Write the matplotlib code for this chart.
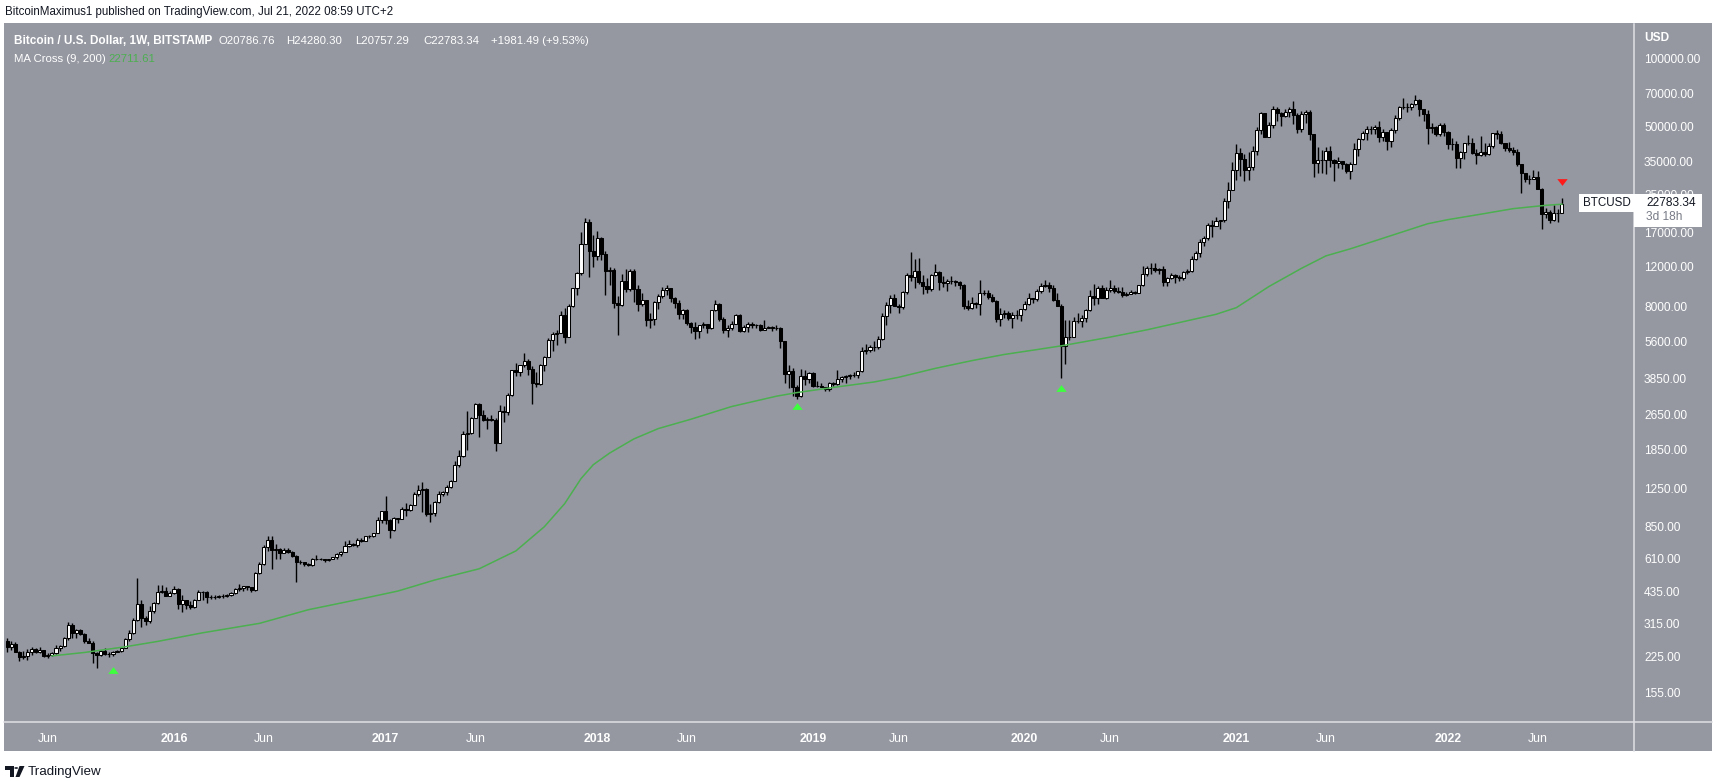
import numpy as np
import pandas as pd
import matplotlib
matplotlib.use('Agg')
import matplotlib.pyplot as plt
import matplotlib.dates as mdates
from matplotlib.patches import Rectangle, Polygon, Circle
from matplotlib.lines import Line2D
from matplotlib.ticker import NullLocator

plt.rcParams['font.family'] = ['Liberation Sans', 'DejaVu Sans']

# weekly BTCUSD candles (Bitstamp), first week starts 2015-03-23
first_open = 262
wk_high = [
    # 2015
    270, 262, 261, 238, 238, 243, 248, 246, 247, 241, 232, 236, 253, 252, 275, 318, 317, 297, 298, 286, 272,
    262, 235, 240, 245, 234, 238, 240, 248, 270, 294, 332, 502, 398, 340, 375, 392, 465, 468, 455, 438,
    # 2016
    462, 450, 422, 398, 395, 405, 445, 440, 440, 421, 420, 422, 425, 425, 432, 451, 470, 460, 462, 457, 530,
    590, 700, 768, 770, 705, 680, 680, 678, 658, 630, 600, 590, 585, 612, 630, 612, 610, 610, 620, 645, 660,
    730, 740, 715, 755, 750, 770, 775, 795, 935, 995,
    # 2017
    1150, 915, 930, 925, 1035, 1080, 1060, 1200, 1290, 1330, 1260, 1060, 1100, 1215, 1220, 1290, 1360, 1650,
    1850, 2250, 2760, 2600, 2990, 2990, 2770, 2600, 2640, 2550, 2930, 2900, 3300, 4200, 4480, 4400, 4980,
    4700, 4350, 4100, 4450, 4800, 5800, 6180, 6310, 7600, 7880, 8200, 9680, 11400, 17100, 19660, 19480, 16500,
    # 2018
    17200, 16300, 14100, 12000, 11800, 8900, 11100, 11750, 11700, 11700, 10000, 9200, 8500, 7500, 8450, 9050,
    9760, 9980, 9670, 8840, 8520, 7780, 7780, 6830, 6850, 6620, 6850, 6720, 7720, 8500, 8250, 7150, 6620,
    6880, 7380, 7400, 6600, 6840, 6800, 6690, 6720, 7000, 6540, 6560, 6600, 6480, 5650, 4400, 4280, 3600,
    4240, 4200,
    # 2019
    4100, 4100, 3750, 3650, 3530, 3700, 3700, 4200, 3950, 3960, 4000, 4100, 4150, 5300, 5470, 5370, 5650,
    5900, 7500, 8400, 8950, 9080, 8180, 9370, 11300, 13880, 12950, 13180, 10980, 10650, 11150, 12300, 11450,
    10940, 10600, 10900, 10450, 10380, 10050, 8500, 8800, 8400, 10500, 9500, 9450, 9080, 8500, 7850, 7700,
    7600, 7560, 7700,
    # 2020
    7800, 8450, 9200, 8750, 9580, 10150, 10500, 10250, 9980, 9200, 8190, 6950, 6950, 7200, 7480, 7300, 7800,
    9460, 10050, 9900, 10000, 9740, 10430, 9980, 9800, 9790, 9300, 9460, 9370, 10000, 12120, 12050, 12490,
    12480, 11850, 12100, 10760, 11200, 11190, 10980, 11480, 11750, 13350, 14100, 15960, 16480, 18800, 19420,
    19900, 19400, 24290, 28370, 34790,
    # 2021
    41950, 40100, 37850, 38550, 40950, 49700, 58350, 57500, 52650, 61790, 61200, 58450, 60000, 61300, 64900,
    57500, 58500, 59500, 59600, 46600, 40900, 39500, 40900, 41300, 36000, 36650, 35300, 34650, 34800, 42600,
    44800, 48150, 50500, 50400, 51000, 52900, 48800, 47400, 49200, 56600, 62000, 67000, 63700, 63600, 69000,
    66400, 59900, 59100, 51900, 50500, 51850, 52100,
    # 2022
    47700, 44450, 43500, 38900, 42500, 45800, 44750, 40000, 45400, 42600, 42400, 46900, 48200, 47700, 42400,
    42900, 40800, 40000, 34250, 31300, 30600, 32350, 31750, 26850, 21800, 21500, 22500, 21600, 24280.30,
]
wk_low = [
    # 2015
    236, 240, 234, 215, 219, 216, 228, 232, 232, 223, 221, 226, 230, 238, 248, 266, 272, 272, 280, 257, 257,
    210, 199, 225, 228, 223, 225, 234, 236, 244, 264, 282, 322, 305, 310, 316, 350, 384, 430, 415, 418,
    # 2016
    423, 365, 355, 365, 365, 370, 398, 400, 386, 404, 405, 408, 410, 414, 418, 424, 440, 438, 445, 435, 440,
    520, 570, 660, 550, 610, 608, 645, 648, 620, 480, 575, 567, 565, 566, 600, 600, 590, 593, 605, 610, 628,
    652, 685, 695, 690, 720, 730, 755, 762, 795, 880,
    # 2017
    870, 750, 810, 880, 910, 940, 990, 1050, 1160, 985, 940, 890, 940, 1080, 1160, 1170, 1260, 1340, 1555,
    1720, 1850, 2180, 2550, 2120, 2480, 2300, 2490, 1830, 1990, 2450, 2650, 3200, 3950, 3950, 4330, 3960,
    2970, 3510, 3600, 4130, 4760, 5100, 5380, 6100, 5500, 5860, 7980, 8950, 11060, 15100, 10800, 12000,
    # 2018
    12800, 12800, 9000, 10000, 7900, 6000, 8000, 9300, 9400, 8350, 7670, 8000, 6550, 6450, 6620, 7820, 8700,
    8960, 8340, 7900, 7050, 7050, 6600, 6120, 5750, 5800, 6450, 6080, 6340, 7650, 6900, 6100, 5880, 6270,
    6660, 6180, 6150, 6180, 6390, 6450, 6200, 6280, 6390, 6250, 6320, 5250, 3650, 3470, 3220, 3120, 3180, 3600,
    # 2019
    3660, 3500, 3500, 3500, 3380, 3380, 3560, 3600, 3690, 3670, 3810, 3900, 3850, 4100, 4920, 5000, 5100,
    5200, 5700, 6600, 7450, 8000, 7450, 7830, 9100, 10400, 9700, 10050, 9090, 9160, 9400, 10900, 9480, 9750,
    9330, 10060, 9880, 9600, 7800, 7750, 7780, 7890, 7300, 8950, 8650, 8380, 6800, 6530, 7110, 6980, 6430, 7010,
    # 2020
    6870, 7720, 8100, 8250, 8460, 9160, 9750, 9300, 8450, 8000, 3850, 4440, 5700, 5870, 6750, 6500, 6810,
    7640, 8100, 8200, 8700, 8630, 9280, 9200, 9220, 8820, 8900, 9050, 9060, 9130, 9850, 10960, 11150, 11360,
    11120, 9890, 9850, 10600, 10130, 10400, 10520, 11170, 11400, 12900, 13200, 14800, 15800, 16200, 18100,
    17600, 19000, 21800, 26150,
    # 2021
    29000, 30300, 28800, 29200, 32300, 37400, 46600, 44900, 45000, 49300, 53200, 50300, 55500, 55400, 51500,
    47000, 47500, 52000, 43800, 30000, 31200, 31100, 31000, 33300, 28800, 32700, 32600, 31100, 29300, 34100,
    37300, 43800, 43900, 46300, 46500, 42800, 43400, 39600, 40800, 47200, 53800, 59700, 58000, 59400, 62300,
    55800, 53300, 42000, 47100, 45600, 45600, 45700,
    # 2022
    39700, 39600, 33000, 32900, 36200, 41600, 38000, 34300, 37200, 37200, 37600, 40500, 44200, 42100, 39200,
    38500, 37600, 33700, 25400, 28600, 28000, 29300, 26500, 17600, 19650, 18650, 19050, 18900, 20757.29,
]
wk_close = [
    # 2015
    247, 254, 236, 223, 226, 236, 242, 236, 240, 225, 228, 233, 246, 250, 271, 310, 285, 293, 282, 263, 259,
    232, 229, 238, 230, 231, 234, 238, 246, 268, 285, 325, 385, 333, 322, 357, 389, 433, 440, 418, 431,
    # 2016
    448, 385, 400, 378, 372, 400, 436, 432, 412, 414, 411, 418, 418, 420, 429, 448, 450, 460, 455, 445, 526,
    575, 685, 740, 665, 670, 645, 665, 655, 624, 590, 588, 580, 574, 606, 610, 606, 600, 610, 617, 640, 655,
    697, 705, 700, 740, 730, 765, 770, 790, 905, 995,
    # 2017
    905, 820, 920, 915, 1015, 1000, 1050, 1180, 1230, 1235, 965, 970, 1090, 1180, 1200, 1270, 1350, 1590,
    1730, 2170, 2200, 2560, 2950, 2630, 2510, 2540, 2520, 1990, 2750, 2730, 3230, 4160, 4080, 4380, 4600,
    4210, 3680, 3620, 4390, 4760, 5690, 6010, 6130, 7360, 5870, 8050, 9650, 11250, 15150, 19000, 14100, 13450,
    # 2018
    16150, 13600, 11500, 11650, 8250, 8100, 10400, 9600, 11450, 9550, 8200, 8500, 6930, 7050, 8350, 8920,
    9420, 9660, 8680, 8250, 7380, 7700, 6740, 6490, 6210, 6600, 6720, 6400, 7700, 8200, 7010, 6300, 6400,
    6710, 7300, 6250, 6500, 6700, 6620, 6590, 6300, 6420, 6490, 6440, 6420, 5600, 4000, 4150, 3530, 3200,
    3950, 3830,
    # 2019
    4040, 3550, 3550, 3530, 3430, 3660, 3640, 3820, 3880, 3925, 3990, 3970, 4120, 5060, 5150, 5300, 5290,
    5740, 7260, 8100, 8740, 8030, 7970, 9250, 11040, 10800, 11490, 10250, 9850, 9520, 11000, 11380, 10220,
    10140, 10380, 10320, 10300, 9980, 8050, 7860, 8300, 8220, 9220, 9200, 8810, 8490, 7040, 7400, 7510,
    7080, 7320, 7300,
    # 2020
    7760, 8190, 8700, 8600, 9330, 9900, 9930, 9670, 8530, 8030, 5360, 5830, 5880, 6860, 6900, 7120, 7690,
    8900, 8720, 9680, 8720, 9450, 9670, 9330, 9300, 9010, 9070, 9250, 9170, 9930, 11180, 11850, 11900, 11650,
    11700, 10280, 10650, 11070, 10750, 10670, 11380, 11500, 13030, 13760, 15470, 16050, 18400, 18180, 19150,
    19250, 23500, 26260, 32170,
    # 2021
    38150, 36050, 32260, 33100, 38900, 48600, 57500, 45200, 51200, 59850, 57330, 55800, 58200, 59800, 56200,
    49000, 57000, 58200, 46500, 34700, 35650, 35800, 39000, 35500, 34700, 35300, 34250, 31800, 34200, 39900,
    44400, 47000, 48900, 48800, 49900, 44950, 47300, 43200, 48250, 55000, 61500, 61300, 61300, 63300, 65500,
    59700, 57200, 49400, 50100, 46700, 50800, 47300,
    # 2022
    41800, 42000, 36300, 38500, 42200, 42200, 38400, 37700, 38800, 37800, 41300, 46800, 46400, 42200, 40400,
    39500, 38500, 34100, 31300, 29450, 29450, 29900, 26600, 20500, 21000, 19300, 20800, 20786.76, 22783.34,
]

# 200-week moving average
ma_dates = ['2015-06-08', '2015-08-03', '2015-10-12', '2015-12-07', '2016-02-22', '2016-05-30',
            '2016-08-22', '2016-11-28', '2017-01-23', '2017-03-27', '2017-06-12', '2017-08-14',
            '2017-10-02', '2017-11-06', '2017-12-04', '2017-12-25', '2018-01-22', '2018-03-05',
            '2018-04-16', '2018-06-11', '2018-08-20', '2018-11-05', '2018-12-10', '2019-02-18',
            '2019-04-22', '2019-06-03', '2019-08-05', '2019-10-07', '2019-12-02', '2020-01-27',
            '2020-03-09', '2020-06-01', '2020-08-03', '2020-10-05', '2020-11-30', '2021-01-04',
            '2021-03-01', '2021-04-26', '2021-06-07', '2021-07-19', '2021-10-04', '2021-11-29',
            '2022-01-03', '2022-02-28', '2022-04-25', '2022-06-20', '2022-07-18']
ma_values = [226, 234, 248, 262, 286, 315,
             362, 408, 438, 490, 550, 660,
             845, 1070, 1380, 1590, 1790, 2070,
             2300, 2530, 2880, 3200, 3320, 3520,
             3700, 3880, 4250, 4600, 4900, 5150,
             5350, 5850, 6300, 6850, 7380, 7900,
             9800, 11800, 13400, 14400, 16700, 18600,
             19400, 20500, 21700, 22450, 22711.61]

# MA cross signals
cross_up_dates = ['2015-09-21', '2018-12-10', '2020-03-09']
cross_up_vals = [196, 2900, 3480]
cross_dn_dates = ['2022-07-18']
cross_dn_vals = [28500]

price_ticks = [100000, 70000, 50000, 35000, 25000, 17000, 12000, 8000, 5600, 3850, 2650,
               1850, 1250, 850, 610, 435, 315, 225, 155]
time_ticks = ['2015-06-01', '2016-01-04', '2016-06-06', '2017-01-02', '2017-06-05', '2018-01-01',
              '2018-06-04', '2019-01-07', '2019-06-03', '2020-01-06', '2020-06-01', '2021-01-04',
              '2021-06-07', '2022-01-03', '2022-06-06']
time_labels = ['Jun', '2016', 'Jun', '2017', 'Jun', '2018', 'Jun', '2019', 'Jun', '2020', 'Jun',
               '2021', 'Jun', '2022', 'Jun']

assert len(wk_high) == len(wk_low) == len(wk_close)

W, H = 1719, 781
GRAY = '#9598a1'
SEP = '#dfe1e6'
DARK = '#131722'


def fx(px):
    return px / W


def fy(py):
    return 1 - py / H


fig = plt.figure(figsize=(W / 100, H / 100), dpi=100)
fig.patch.set_facecolor('white')

# gray chart panel (pane + price scale + time scale)
fig.add_artist(Rectangle((fx(4), fy(751)), fx(1712) - fx(4), fy(23.5) - fy(751),
                         transform=fig.transFigure, facecolor=GRAY, edgecolor='none', zorder=-1))

ax = fig.add_axes([fx(4), fy(722), (1634 - 4) / W, (722 - 23.5) / H])
ax.patch.set_visible(False)
for s in ax.spines.values():
    s.set_visible(False)

dates = pd.date_range('2015-03-23', periods=len(wk_close), freq='7D')
x = mdates.date2num(dates)
closes = np.array(wk_close, dtype=float)
opens = np.array([first_open] + wk_close[:-1], dtype=float)
highs = np.array(wk_high, dtype=float)
lows = np.array(wk_low, dtype=float)
up = closes >= opens
blo = np.minimum(opens, closes)
bhi = np.maximum(opens, closes)

ax.vlines(x, lows, highs, color='black', lw=1.0, zorder=2)
ax.bar(x[up], (bhi - blo)[up], bottom=blo[up], width=5.3, color='white',
       edgecolor='black', lw=0.75, zorder=3)
ax.bar(x[~up], (bhi - blo)[~up], bottom=blo[~up], width=5.3, color='black',
       edgecolor='black', lw=0.75, zorder=3)

ax.plot(mdates.date2num(pd.to_datetime(ma_dates)), ma_values, color='#4caf50', lw=1.1, zorder=4)

up_marker = [(-1, -0.65), (1, -0.65), (0, 0.65)]
dn_marker = [(-1, 0.65), (1, 0.65), (0, -0.65)]
ax.plot(mdates.date2num(pd.to_datetime(cross_up_dates)), cross_up_vals, ls='none',
        marker=up_marker, ms=7.5, color='#3dff3d', mec='none', zorder=5)
ax.plot(mdates.date2num(pd.to_datetime(cross_dn_dates)), cross_dn_vals, ls='none',
        marker=dn_marker, ms=7.5, color='#ff1a1a', mec='none', zorder=5)

ax.set_yscale('log')
ax.set_ylim(115.1, 143600)
d0 = mdates.date2num(pd.Timestamp('2016-01-04'))
ax.set_xlim(d0 - 41.77 * 7, d0 + 358.7 * 7)

ax.yaxis.set_ticks_position('right')
ax.set_yticks(price_ticks)
ax.set_yticklabels([f'{v:.2f}' for v in price_ticks])
ax.yaxis.set_minor_locator(NullLocator())
ax.tick_params(axis='y', which='both', length=0, pad=7.2, labelsize=8.6, labelcolor='white')

ax.set_xticks(mdates.date2num(pd.to_datetime(time_ticks)))
ax.set_xticklabels(time_labels)
ax.xaxis.set_minor_locator(NullLocator())
ax.tick_params(axis='x', which='both', length=0, pad=7.6, labelsize=8.8, labelcolor='white')
for lab in ax.get_xticklabels():
    if lab.get_text() != 'Jun':
        lab.set_fontweight('bold')

# separators
fig.add_artist(Line2D([fx(1634), fx(1634)], [fy(23.5), fy(751)], transform=fig.transFigure,
                      color=SEP, lw=1.1, zorder=6))
fig.add_artist(Line2D([fx(4), fx(1712)], [fy(722), fy(722)], transform=fig.transFigure,
                      color=SEP, lw=1.1, zorder=6))

# header and legend
fig.text(fx(5), fy(12.5), 'BitcoinMaximus1 published on TradingView.com, Jul 21, 2022 08:59 UTC+2',
         fontsize=8.3, color=DARK, va='center', ha='left')
leg_y = fy(40.5)
fs = 8.2
fig.text(fx(14), leg_y, 'Bitcoin / U.S. Dollar, 1W, BITSTAMP', fontsize=8.5, fontweight='bold',
         color='white', va='center')
fig.text(fx(218), leg_y, 'O20786.76', fontsize=fs, color='white', va='center')
fig.text(fx(286), leg_y, 'H24280.30', fontsize=fs, color='white', va='center')
fig.text(fx(355), leg_y, 'L20757.29', fontsize=fs, color='white', va='center')
fig.text(fx(423), leg_y, 'C22783.34', fontsize=fs, color='white', va='center')
fig.text(fx(491), leg_y, '+1981.49 (+9.53%)', fontsize=fs, color='white', va='center')
fig.text(fx(14), fy(58.5), 'MA Cross (9, 200)', fontsize=fs, color='white', va='center')
fig.text(fx(108), fy(58.5), '22711.61', fontsize=fs, color='#4caf50', va='center')

fig.text(fx(1644), fy(38), 'USD', fontsize=8.6, color='white', va='center', fontweight='bold')

# last price labels
fig.add_artist(Rectangle((fx(1579), fy(212)), fx(1634) - fx(1579), fy(194) - fy(212),
                         transform=fig.transFigure, facecolor='white', edgecolor='none', zorder=7))
fig.text(fx(1606.5), fy(203), 'BTCUSD', fontsize=8.4, color=DARK, va='center', ha='center', zorder=8)
fig.add_artist(Rectangle((fx(1634), fy(227)), fx(1702) - fx(1634), fy(194) - fy(227),
                         transform=fig.transFigure, facecolor='white', edgecolor='none', zorder=7))
fig.text(fx(1646), fy(203), '22783.34', fontsize=8.6, color=DARK, va='center', zorder=8)
fig.text(fx(1646), fy(217), '3d 18h', fontsize=8.6, color='#787b86', va='center', zorder=8)

# TradingView footer logo
fig.add_artist(Polygon([(fx(5), fy(766)), (fx(13.5), fy(766)), (fx(13.5), fy(777)), (fx(10), fy(777)),
                        (fx(10), fy(770)), (fx(5), fy(770))], closed=True, transform=fig.transFigure,
                       facecolor=DARK, edgecolor='none'))
fig.add_artist(Circle((fx(16.2), fy(768)), 1.9 / W, transform=fig.transFigure,
                      facecolor=DARK, edgecolor='none'))
fig.add_artist(Polygon([(fx(19.5), fy(766)), (fx(24.5), fy(766)), (fx(19.5), fy(777)), (fx(15.5), fy(777))],
                       closed=True, transform=fig.transFigure, facecolor=DARK, edgecolor='none'))
fig.text(fx(28), fy(772), 'TradingView', fontsize=9.6, color=DARK, va='center')

fig.savefig('out.png', dpi=100, facecolor='white')
